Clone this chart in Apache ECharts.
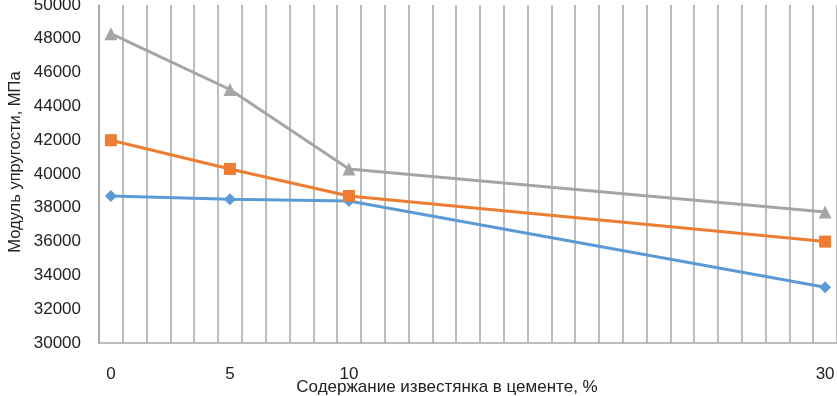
<!DOCTYPE html>
<html><head><meta charset="utf-8">
<script src="https://cdn.jsdelivr.net/npm/echarts@6/dist/echarts.min.js"></script>
<style>html,body{margin:0;padding:0;background:#fff}#c{width:837px;height:396px}</style>
</head><body><div id="c"></div>
<script>
var categories = ['0','1','2','3','4','5','6','7','8','9','10','11','12','13','14','15','16','17','18','19','20','21','22','23','24','25','26','27','28','29','30'];
var shownLabels = ['0','5','10','30'];
var xPoints = ['0','5','10','30'];
var seriesBlue = [38700, 38500, 38400, 33300];
var seriesOrange = [42000, 40300, 38700, 36000];
var seriesGray = [48300, 45000, 40300, 37750];

function toFull(vals){
  var out = categories.map(function(){return null;});
  xPoints.forEach(function(x,i){ out[categories.indexOf(x)] = vals[i]; });
  return out;
}
var font = 'Liberation Sans';
var chart = echarts.init(document.getElementById('c'));
function mk(vals,color,symbol,size){
  return {type:'line', data:toFull(vals), connectNulls:true, symbol:symbol, symbolSize:size,
    lineStyle:{color:color,width:3}, itemStyle:{color:color}, animation:false};
}
chart.setOption({
  animation:false,
  grid:{left:99,right:0,top:5,bottom:53,containLabel:false,outerBoundsMode:'none'},
  xAxis:{type:'category',data:categories,boundaryGap:true,
    axisLine:{lineStyle:{color:'#a6a6a6',width:1.5}},axisTick:{show:false},
    splitLine:{show:true,interval:0,lineStyle:{color:'#a6a6a6',width:1.5}},
    axisLabel:{interval:0,margin:23,fontFamily:font,fontSize:17,color:'#222',
      formatter:function(v){return shownLabels.indexOf(v)>=0?v:'';}},
    name:'Содержание известянка в цементе, %',nameLocation:'middle',nameGap:36,nameMoveOverlap:false,
    nameTextStyle:{fontFamily:font,fontSize:17,color:'#222',padding:[0,42,0,0]}
  },
  yAxis:{type:'value',min:30000,max:50000,interval:2000,
    axisLine:{show:true,lineStyle:{color:'#a6a6a6',width:1.5}},axisTick:{show:false},
    splitLine:{show:false},
    axisLabel:{margin:18,fontFamily:font,fontSize:17,color:'#222',formatter:function(v){return String(v);}},
    name:'Модуль упругости, МПа',nameLocation:'middle',nameGap:75,nameMoveOverlap:false,
    nameTextStyle:{fontFamily:font,fontSize:16.5,color:'#222',padding:[0,0,0,24]}
  },
  series:[
    mk(seriesBlue,'#5b9bd5','diamond',12),
    mk(seriesOrange,'#ed7d31','rect',12),
    mk(seriesGray,'#a5a5a5','triangle',13)
  ]
});
</script></body></html>
